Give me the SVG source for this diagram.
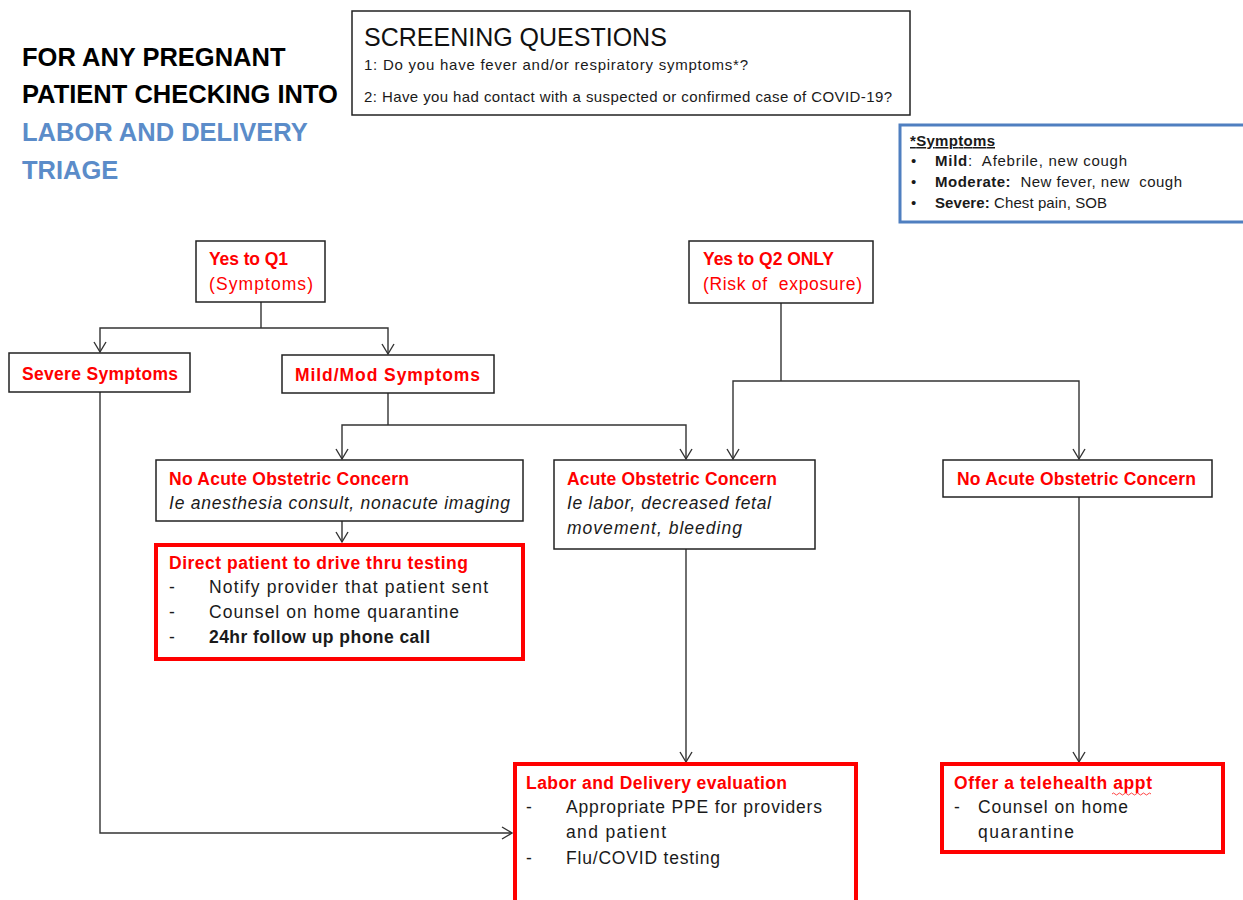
<svg xmlns="http://www.w3.org/2000/svg" width="1243" height="900" viewBox="0 0 1243 900">
<style>
text{font-family:"Liberation Sans",Arial,sans-serif;white-space:pre}
.title{font-size:25.5px;font-weight:bold;fill:#000}
.blue{fill:#5b8cc9}
.h{font-size:17.5px;font-weight:bold;fill:#ff0000}
.r{font-size:17.5px;fill:#ff0000}
.b{font-size:17.5px;fill:#1a1a1a}
.i{font-size:17.5px;font-style:italic;fill:#1a1a1a}
.q{font-size:15px;fill:#1a1a1a}
.s{font-size:15px;fill:#1a1a1a}
.box{fill:#fff;stroke:#222;stroke-width:1.5}
.rbox{fill:#fff;stroke:#ff0000;stroke-width:4}
.con{fill:none;stroke:#333;stroke-width:1.4}
</style>
<defs>
<marker id="ah" markerUnits="userSpaceOnUse" markerWidth="14" markerHeight="14" viewBox="0 0 14 14" refX="12" refY="7" orient="auto">
<path d="M2,1 L12,7 L2,13" fill="none" stroke="#333" stroke-width="1.4"/>
</marker>
</defs>
<rect width="1243" height="900" fill="#fff"/>

<g id="title">
<text class="title" x="22" y="66">FOR ANY PREGNANT</text>
<text class="title" x="22" y="103">PATIENT CHECKING INTO</text>
<text class="title blue" x="22" y="141">LABOR AND DELIVERY</text>
<text class="title blue" x="22" y="179">TRIAGE</text>
</g>

<g id="screening">
<rect class="box" x="352" y="11" width="558" height="104"/>
<text x="364" y="46" style="font-size:25px;fill:#111">SCREENING QUESTIONS</text>
<text class="q" x="364" y="70" textLength="384" lengthAdjust="spacing">1: Do you have fever and/or respiratory symptoms*?</text>
<text class="q" x="364" y="102" textLength="528" lengthAdjust="spacing">2: Have you had contact with a suspected or confirmed case of COVID-19?</text>
</g>

<g id="symptoms-legend">
<rect x="900" y="125" width="360" height="97" fill="#fff" stroke="#4f7fc0" stroke-width="3"/>
<text class="s" x="910" y="146" textLength="85" lengthAdjust="spacing" style="font-weight:bold;text-decoration:underline">*Symptoms</text>
<text class="s" x="911" y="166">•</text>
<text class="s" x="935" y="166" textLength="192" lengthAdjust="spacing"><tspan font-weight="bold">Mild</tspan>:  Afebrile, new cough</text>
<text class="s" x="911" y="187">•</text>
<text class="s" x="935" y="187" textLength="247" lengthAdjust="spacing"><tspan font-weight="bold">Moderate:</tspan>  New fever, new  cough</text>
<text class="s" x="911" y="208">•</text>
<text class="s" x="935" y="208" textLength="172" lengthAdjust="spacing"><tspan font-weight="bold">Severe:</tspan> Chest pain, SOB</text>
</g>

<g id="connectors">
<path class="con" d="M261,302 V328"/>
<path class="con" d="M261,328 H100 V352" marker-end="url(#ah)"/>
<path class="con" d="M261,328 H388 V354" marker-end="url(#ah)"/>
<path class="con" d="M388,393 V425"/>
<path class="con" d="M388,425 H342 V459" marker-end="url(#ah)"/>
<path class="con" d="M388,425 H686 V459" marker-end="url(#ah)"/>
<path class="con" d="M781,303 V381"/>
<path class="con" d="M781,381 H733 V459" marker-end="url(#ah)"/>
<path class="con" d="M781,381 H1079 V459" marker-end="url(#ah)"/>
<path class="con" d="M342,521 V542" marker-end="url(#ah)"/>
<path class="con" d="M686,549 V762" marker-end="url(#ah)"/>
<path class="con" d="M1079,497 V762" marker-end="url(#ah)"/>
<path class="con" d="M100,392 V833 H512" marker-end="url(#ah)"/>
</g>

<g id="yes-q1">
<rect class="box" x="196" y="241" width="129" height="61"/>
<text class="h" x="209" y="265" textLength="79" lengthAdjust="spacing">Yes to Q1</text>
<text class="r" x="209" y="290" textLength="104" lengthAdjust="spacing">(Symptoms)</text>
</g>

<g id="yes-q2">
<rect class="box" x="689" y="241" width="184" height="62"/>
<text class="h" x="703" y="265" textLength="131" lengthAdjust="spacing">Yes to Q2 ONLY</text>
<text class="r" x="703" y="290" textLength="159" lengthAdjust="spacing">(Risk of  exposure)</text>
</g>

<g id="severe">
<rect class="box" x="9" y="353" width="181" height="39"/>
<text class="h" x="22" y="380" textLength="156" lengthAdjust="spacing">Severe Symptoms</text>
</g>

<g id="mildmod">
<rect class="box" x="282" y="355" width="212" height="38"/>
<text class="h" x="295" y="381" textLength="185" lengthAdjust="spacing">Mild/Mod Symptoms</text>
</g>

<g id="no-acute-left">
<rect class="box" x="156" y="460" width="367" height="61"/>
<text class="h" x="169" y="485" textLength="240" lengthAdjust="spacing">No Acute Obstetric Concern</text>
<text class="i" x="169" y="509" textLength="341" lengthAdjust="spacing">Ie anesthesia consult, nonacute imaging</text>
</g>

<g id="acute">
<rect class="box" x="554" y="460" width="261" height="89"/>
<text class="h" x="567" y="485" textLength="210" lengthAdjust="spacing">Acute Obstetric Concern</text>
<text class="i" x="567" y="509" textLength="204" lengthAdjust="spacing">Ie labor, decreased fetal</text>
<text class="i" x="567" y="534" textLength="175" lengthAdjust="spacing">movement, bleeding</text>
</g>

<g id="no-acute-right">
<rect class="box" x="943" y="460" width="269" height="37"/>
<text class="h" x="957" y="485" textLength="239" lengthAdjust="spacing">No Acute Obstetric Concern</text>
</g>

<g id="drive-thru">
<rect class="rbox" x="156" y="545" width="367" height="114"/>
<text class="h" x="169" y="569" textLength="299" lengthAdjust="spacing">Direct patient to drive thru testing</text>
<text class="b" x="169" y="593">-</text>
<text class="b" x="209" y="593" textLength="279" lengthAdjust="spacing">Notify provider that patient sent</text>
<text class="b" x="169" y="618">-</text>
<text class="b" x="209" y="618" textLength="250" lengthAdjust="spacing">Counsel on home quarantine</text>
<text class="b" x="169" y="643">-</text>
<text class="b" x="209" y="643" font-weight="bold" textLength="221" lengthAdjust="spacing">24hr follow up phone call</text>
</g>

<g id="ld-eval">
<rect class="rbox" x="515" y="764" width="341" height="150"/>
<text class="h" x="526" y="789" textLength="261" lengthAdjust="spacing">Labor and Delivery evaluation</text>
<text class="b" x="526" y="813">-</text>
<text class="b" x="566" y="813" textLength="256" lengthAdjust="spacing">Appropriate PPE for providers</text>
<text class="b" x="566" y="838" textLength="100" lengthAdjust="spacing">and patient</text>
<text class="b" x="526" y="864">-</text>
<text class="b" x="566" y="864" textLength="154" lengthAdjust="spacing">Flu/COVID testing</text>
</g>

<g id="telehealth">
<rect class="rbox" x="942" y="764" width="281" height="88"/>
<text class="h" x="954" y="789" textLength="198" lengthAdjust="spacing">Offer a telehealth appt</text>
<path d="M1112,794 q1.5,-2 3,0 t3,0 t3,0 t3,0 t3,0 t3,0 t3,0 t3,0 t3,0 t3,0 t3,0 t3,0 t3,0" fill="none" stroke="#ff3030" stroke-width="0.9"/>
<text class="b" x="954" y="813">-</text>
<text class="b" x="978" y="813" textLength="150" lengthAdjust="spacing">Counsel on home</text>
<text class="b" x="978" y="838" textLength="96" lengthAdjust="spacing">quarantine</text>
</g>
</svg>
